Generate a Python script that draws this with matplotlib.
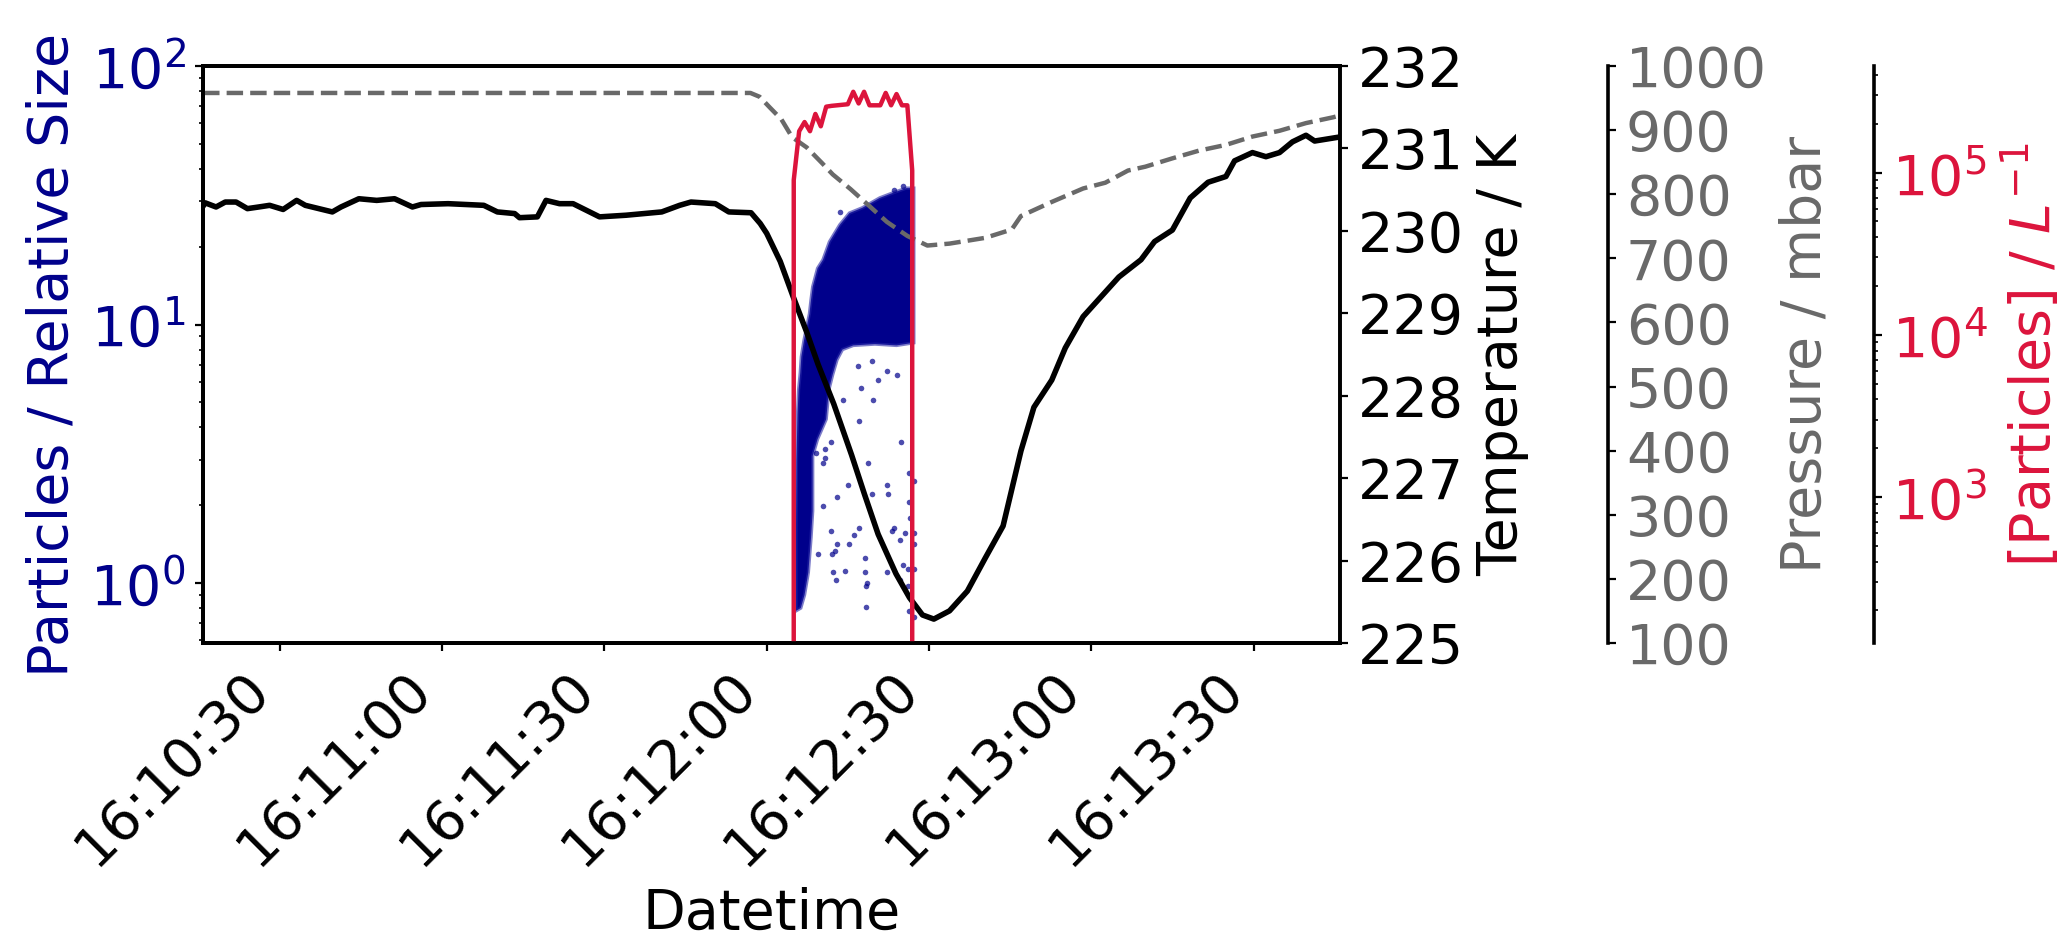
import matplotlib

matplotlib.use("Agg")
import matplotlib.dates as mdates
import matplotlib.pyplot as plt
import numpy as np
import pandas as pd

plt.rcParams["font.size"] = 20
plt.rcParams["axes.linewidth"] = 1.3
plt.rcParams["xtick.major.size"] = 3.0
plt.rcParams["ytick.major.size"] = 2.8
plt.rcParams["ytick.minor.size"] = 1.4
plt.rcParams["xtick.major.width"] = 0.8
plt.rcParams["ytick.major.width"] = 0.8
plt.rcParams["ytick.minor.width"] = 0.6

BASE = pd.Timestamp("2023-01-01 16:12:00")
X_RANGE = [-104.2, 106.0]  # seconds relative to 16:12:00

# temperature (K), time in seconds relative to 16:12:00
TEMP_T = [-104.2, -103.8, -101.8, -100.1, -98.1, -96.0, -93.9, -91.9, -89.4, -86.9,
          -85.3, -80.3, -78.7, -75.4, -72.1, -68.8, -65.5, -63.9, -58.9, -52.3,
          -49.8, -46.6, -45.7, -42.4, -40.8, -38.3, -35.8, -30.9, -26.0, -19.4,
          -16.1, -14.0, -9.5, -7.0, -2.9, -1.2, 0.0, 2.5, 4.9, 7.4,
          9.5, 12.4, 15.7, 18.1, 20.6, 23.9, 26.4, 28.8, 30.9, 33.8,
          37.1, 40.4, 43.7, 47.0, 49.4, 52.7, 55.2, 58.5, 61.8, 65.1,
          69.2, 71.7, 75.0, 78.3, 81.6, 84.9, 86.5, 89.8, 92.3, 94.8,
          97.2, 99.7, 101.3, 106.0]
TEMP_K = [230.30, 230.34, 230.29, 230.35, 230.35, 230.27, 230.29, 230.31, 230.26, 230.37,
          230.31, 230.23, 230.29, 230.39, 230.37, 230.39, 230.29, 230.32, 230.33, 230.31,
          230.23, 230.21, 230.16, 230.17, 230.37, 230.33, 230.33, 230.17, 230.19, 230.23,
          230.31, 230.35, 230.33, 230.23, 230.22, 230.09, 229.97, 229.63, 229.20, 228.77,
          228.38, 227.90, 227.28, 226.80, 226.32, 225.84, 225.55, 225.34, 225.29, 225.39,
          225.63, 226.03, 226.42, 227.33, 227.86, 228.19, 228.58, 228.96, 229.20, 229.44,
          229.65, 229.87, 230.01, 230.40, 230.59, 230.66, 230.85, 230.95, 230.90, 230.95,
          231.08, 231.16, 231.09, 231.14]

# pressure (mbar)
PRES_T = [-104.2, -3.0, -1.3, 0.5, 2.7, 4.7, 7.4, 10.3, 12.2, 15.5,
          18.8, 22.2, 26.0, 29.7, 33.8, 40.4, 45.3, 47.0, 52.7, 58.5,
          62.6, 66.8, 70.0, 75.0, 79.9, 84.9, 89.8, 94.8, 99.7, 104.7, 106.0]
PRES_MBAR = [958, 958, 952, 936, 917, 889, 873, 848, 831, 808,
             783, 757, 735, 720, 723, 732, 745, 766, 788, 809,
             818, 837, 843, 856, 868, 877, 890, 899, 911, 920, 923]

# particle concentration (per litre)
CONC_T = [4, 5, 6, 7, 8, 9, 10, 11, 12, 13, 14, 15, 16, 17, 18, 19, 20, 21,
          22, 23, 24, 25, 26, 26.9, 27.9]
CONC_L = [0, 9.0e4, 1.8e5, 2.05e5, 1.8e5, 2.3e5, 1.93e5, 2.55e5, 2.58e5, 2.6e5,
          2.62e5, 2.64e5, 3.15e5, 2.67e5, 3.15e5, 2.6e5, 2.6e5, 2.6e5, 3.1e5, 2.6e5,
          3.05e5, 2.6e5, 2.6e5, 1.03e5, 0]

# outline of the dense particle-size cloud
CLOUD_T = [5.4, 5.4, 5.5, 5.7, 5.9, 6.2, 6.4, 6.9, 7.9, 8.2, 8.5, 9.4, 10.4, 11.6,
           13.5, 15.3, 17.7, 20.9, 23.3, 25.8, 27.2, 27.2, 24.0, 20.0, 16.0, 14.0,
           13.0, 12.2, 11.5, 11.0, 9.4, 8.5, 8.5, 8.2, 7.7, 7.0, 6.3]
CLOUD_SIZE = [0.78, 1.5, 3.0, 4.5, 5.6, 6.5, 7.5, 8.7, 11.0, 12.5, 14.0, 16.5, 17.8, 20.9,
              24.3, 27.0, 28.3, 30.9, 32.3, 33.7, 33.7, 8.5, 8.3, 8.4, 8.3, 8.0,
              7.3, 6.4, 5.6, 4.3, 3.6, 3.1, 1.9, 1.5, 1.1, 0.9, 0.8]

# individual particles outside the dense cloud
SPARSE_T = [14.1, 19.6, 17.0, 11.8, 24.9, 10.7, 9.2, 10.7, 10.4, 18.7,
            15.0, 22.2, 19.5, 22.4, 13.0, 10.4, 26.3, 17.0, 11.8, 23.5,
            23.2, 25.5, 27.3, 16.2, 24.6, 13.0, 15.3, 27.3, 9.4, 12.1,
            12.6, 18.1, 12.2, 14.4, 18.1, 22.2, 25.2, 26.1, 27.3, 12.9,
            18.6, 18.4, 24.6, 26.1, 18.4, 26.3, 27.3, 26.3, 27.3, 26.4,
            16.9, 19.5, 22.2, 24.1, 17.4, 20.5, 13.5, 23.6, 25.2]
SPARSE_SIZE = [5.1, 5.1, 4.25, 3.52, 3.52, 3.29, 3.17, 3.04, 2.92, 2.92,
               2.39, 2.39, 2.21, 2.21, 2.15, 1.99, 2.06, 1.63, 1.59, 1.63,
               1.59, 1.56, 1.56, 1.53, 1.47, 1.41, 1.41, 1.41, 1.30, 1.30,
               1.33, 1.25, 1.10, 1.11, 1.10, 1.10, 1.17, 1.13, 1.13, 1.03,
               1.00, 0.97, 1.03, 0.97, 0.81, 0.78, 0.74, 2.67, 2.49, 1.79,
               6.9, 7.2, 6.6, 6.4, 5.7, 6.1, 27.3, 33.1, 34.5]


def to_num(sec):
    t = BASE + pd.to_timedelta(np.asarray(sec, dtype=float), unit="s")
    return mdates.date2num(t.to_numpy())


fig = plt.figure(figsize=(10.34, 4.69), dpi=200)
ax1 = fig.add_axes([0.0982, 0.3145, 0.5498, 0.6151])

ax1.fill(to_num(CLOUD_T), CLOUD_SIZE, facecolor="darkblue",
         edgecolor=(0.15, 0.15, 0.65, 0.6), lw=1.2, zorder=2)
ax1.scatter(to_num(SPARSE_T), SPARSE_SIZE, s=4, color="darkblue", alpha=0.7,
            linewidths=0, zorder=3)
ax1.set_yscale("log")
ax1.set_ylim(0.586, 100)
ax1.set_ylabel("Particles / Relative Size", color="darkblue")
ax1.tick_params(axis="y", labelcolor="darkblue")
ax1.set_xlabel("Datetime")
ax1.set_xlim(to_num(X_RANGE))
ax1.xaxis.set_major_locator(mdates.SecondLocator(bysecond=[0, 30]))
ax1.xaxis.set_major_formatter(mdates.DateFormatter("%H:%M:%S"))
plt.setp(ax1.get_xticklabels(), rotation=45, ha="right")

ax2 = ax1.twinx()
ax2.plot(to_num(TEMP_T), TEMP_K, color="black", lw=2.0)
ax2.set_ylim(225, 232)
ax2.set_yticks(range(225, 233))
ax2.set_ylabel("Temperature / K")

ax3 = ax1.twinx()
ax3.spines["right"].set_position(("axes", 1.236))
ax3.plot(to_num(PRES_T), PRES_MBAR, color="dimgray", ls="--", lw=1.6)
ax3.set_ylim(100, 1000)
ax3.set_yticks(range(100, 1001, 100))
ax3.tick_params(axis="y", labelcolor="dimgray")
ax3.set_ylabel("Pressure / mbar", color="dimgray")

ax4 = ax1.twinx()
ax4.spines["right"].set_position(("axes", 1.470))
ax4.plot(to_num(CONC_T), CONC_L, color="crimson", lw=1.6)
ax4.set_yscale("log", nonpositive="clip")
ax4.set_ylim(126, 4.54e5)
ax4.tick_params(axis="y", labelcolor="crimson")
ax4.set_ylabel("[Particles] / $L^{-1}$", color="crimson")

fig.savefig("out.png", dpi=200)
